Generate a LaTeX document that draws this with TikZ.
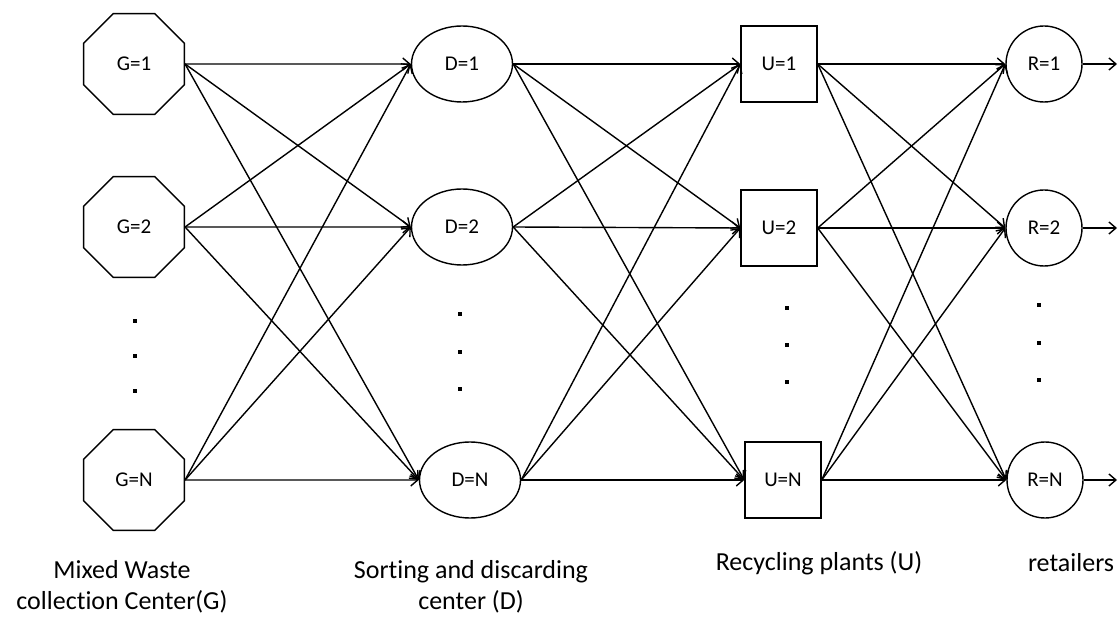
\documentclass[tikz,border=0pt]{standalone}
\usepackage{fontspec}
\setmainfont{Carlito}[Ligatures=NoCommon]
\usepackage{tikz}
\usetikzlibrary{positioning,%
  arrows.meta,%
  shapes.geometric
}

\begin{document}
\begin{tikzpicture}[x=1pt,y=-1pt,
    every node/.style={font=\fontsize{21}{25}\selectfont, inner sep=0pt},
    octa/.style={draw, line width=1.4pt, regular polygon, regular polygon sides=8, minimum size=109pt},
    oval/.style={draw, line width=1.4pt, ellipse, minimum width=101pt, minimum height=76pt},
    plant/.style={draw, line width=1.4pt, rectangle, minimum size=76pt},
    shop/.style={draw, line width=1.4pt, circle, minimum size=76pt},
    flow/.style={line width=1.4pt, -{Straight Barb[length=7pt,width=12pt,line width=1.4pt]}},
    dotmark/.style={fill, minimum size=4.5pt},
    caption/.style={font=\fontsize{26}{31}\selectfont, align=center}]
  \useasboundingbox (0,0) rectangle (1119,617);

  % layers
  \node[octa] (g1) at (134,64) {G=1};
  \node[octa] (g2) at (134,227) {G=2};
  \node[octa] (gn) at (134,480) {G=N};

  \node[oval] (d1) at (462,64) {D=1};
  \node[oval] (d2) at (462,227) {D=2};
  \node[oval] (dn) at (470,480) {D=N};

  \node[plant] (u1) at (779,64) {U=1};
  \node[plant] (u2) at (779,228) {U=2};
  \node[plant] (un) at (783,480) {U=N};

  \node[shop] (r1) at (1044,64) {R=1};
  \node[shop] (r2) at (1044,228) {R=2};
  \node[shop] (rn) at (1045,480) {R=N};

  % dots
  \node[dotmark] (gdot1) at (135,321) {};
  \node[dotmark] (gdot2) at (135,356) {};
  \node[dotmark] (gdot3) at (135,391) {};
  \node[dotmark] (ddot1) at (460,314) {};
  \node[dotmark] (ddot2) at (460,352) {};
  \node[dotmark] (ddot3) at (460,389) {};
  \node[dotmark] (udot1) at (787,308) {};
  \node[dotmark] (udot2) at (787,345) {};
  \node[dotmark] (udot3) at (787,382) {};
  \node[dotmark] (rdot1) at (1039,305) {};
  \node[dotmark] (rdot2) at (1039,343) {};
  \node[dotmark] (rdot3) at (1039,380) {};

  % G to D
  \draw[flow] (g1.east) -- (d1.west);
  \draw[flow] (g1.east) -- (d2.west);
  \draw[flow] (g1.east) -- (dn.west);
  \draw[flow] (g2.east) -- (d1.west);
  \draw[flow] (g2.east) -- (d2.west);
  \draw[flow] (g2.east) -- (dn.west);
  \draw[flow] (gn.east) -- (d1.west);
  \draw[flow] (gn.east) -- (d2.west);
  \draw[flow] (gn.east) -- (dn.west);

  % D to U
  \draw[flow] (d1.east) -- (u1.west);
  \draw[flow] (d1.east) -- (u2.west);
  \draw[flow] (d1.east) -- (un.west);
  \draw[flow] (d2.east) -- (u1.west);
  \draw[flow] (d2.east) -- (u2.west);
  \draw[flow] (d2.east) -- (un.west);
  \draw[flow] (dn.east) -- (u1.west);
  \draw[flow] (dn.east) -- (u2.west);
  \draw[flow] (dn.east) -- (un.west);

  % U to R
  \draw[flow] (u1.east) -- (r1.west);
  \draw[flow] (u1.east) -- (r2.west);
  \draw[flow] (u1.east) -- (rn.west);
  \draw[flow] (u2.east) -- (r1.west);
  \draw[flow] (u2.east) -- (r2.west);
  \draw[flow] (u2.east) -- (rn.west);
  \draw[flow] (un.east) -- (r1.west);
  \draw[flow] (un.east) -- (r2.west);
  \draw[flow] (un.east) -- (rn.west);

  % out of R
  \coordinate (out1) at (1117,64);
  \coordinate (out2) at (1117,228);
  \coordinate (outn) at (1117,480);
  \draw[flow] (r1.east) -- (out1);
  \draw[flow] (r2.east) -- (out2);
  \draw[flow] (rn.east) -- (outn);

  % captions
  \node[caption] (gcap) at (122,587) {Mixed Waste\\collection Center(G)};
  \node[caption] (dcap) at (471,587) {Sorting and discarding\\center (D)};
  \node[caption] (ucap) at (819,563) {Recycling plants (U)};
  \node[caption] (rcap) at (1071,563) {retailers};
\end{tikzpicture}
\end{document}
